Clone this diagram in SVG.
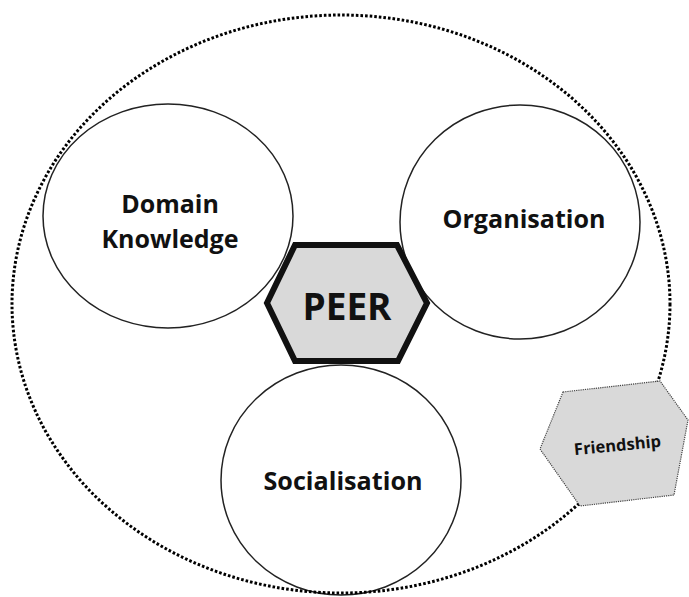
<svg xmlns="http://www.w3.org/2000/svg" width="689" height="597" viewBox="0 0 689 597">
<style>
.circ{fill:#fff;stroke:#222;stroke-width:1.5}
.lbl{font-family:"Open Sans","Liberation Sans",sans-serif;font-weight:700;fill:#111;text-anchor:middle}
.outer{fill:none;stroke:#000;stroke-width:3;stroke-dasharray:2.6 2}
</style>
<rect width="689" height="597" fill="#fff"/>
<g id="domain">
<ellipse class="circ" cx="168" cy="216" rx="125" ry="112"/>
<text class="lbl" x="170" y="213" font-size="25">Domain</text>
<text class="lbl" x="170" y="248" font-size="25">Knowledge</text>
</g>
<g id="organisation">
<ellipse class="circ" cx="520" cy="222" rx="120" ry="117"/>
<text class="lbl" x="524" y="228" font-size="25" textLength="163" lengthAdjust="spacingAndGlyphs">Organisation</text>
</g>
<g id="socialisation">
<ellipse class="circ" cx="341" cy="480" rx="120" ry="115"/>
<text class="lbl" x="343" y="490" font-size="25" textLength="159" lengthAdjust="spacingAndGlyphs">Socialisation</text>
</g>
<g id="peer">
<polygon points="295,245 397,245 427,303 398,361 295,361 267,303" fill="#d9d9d9" stroke="#111" stroke-width="6" stroke-linejoin="miter"/>
<text class="lbl" x="347" y="320" font-size="37">PEER</text>
</g>
<g id="connectors">
<ellipse class="outer" cx="341" cy="304" rx="329" ry="289"/>
</g>
<g id="friendship">
<polygon points="563,392 660,381 688,420 674,495 580,506 540,449" fill="#d9d9d9" stroke="#444" stroke-width="1.2" stroke-dasharray="1.2 1"/>
<text class="lbl" x="618" y="451" font-size="16.5" transform="rotate(-5.5 618 451)">Friendship</text>
</g>
</svg>
